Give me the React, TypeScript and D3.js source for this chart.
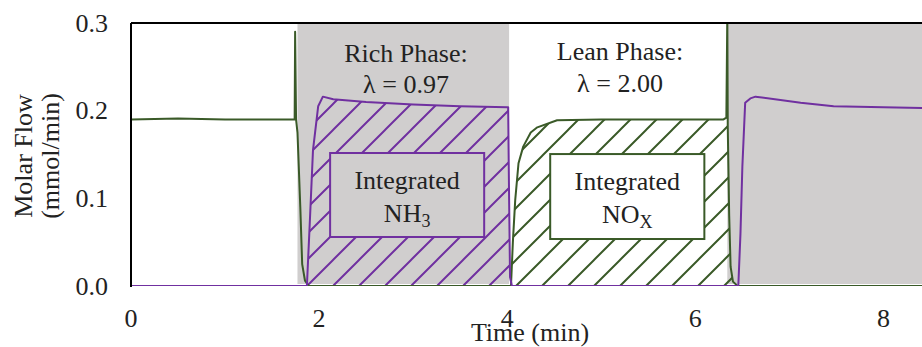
import React from 'react';
import * as d3 from 'd3';

// time (min) and molar flow (mmol/min)
const noxTime = [0, 0.5, 1.0, 1.5, 1.74, 1.745, 1.755, 1.77, 1.8, 1.82, 1.85, 1.89, 4.02, 4.04, 4.06, 4.085, 4.12, 4.17, 4.25, 4.32, 4.53, 5.0, 5.5, 6.0, 6.3, 6.33, 6.34, 6.345, 6.36, 6.375, 6.4, 6.45, 7.0, 8.41];
const noxFlow = [0.19, 0.191, 0.19, 0.19, 0.19, 0.29, 0.19, 0.175, 0.09, 0.025, 0.006, 0, 0, 0, 0.05, 0.098, 0.14, 0.159, 0.175, 0.181, 0.189, 0.19, 0.19, 0.19, 0.19, 0.192, 0.31, 0.18, 0.08, 0.022, 0.005, 0, 0, 0];

const nh3Time = [0, 1.0, 1.87, 1.9, 1.935, 1.99, 2.04, 2.15, 2.5, 3.0, 3.5, 4.0, 4.01, 4.02, 4.03, 4.05, 6.0, 6.457, 6.48, 6.5, 6.53, 6.585, 6.64, 7.12, 7.47, 8.0, 8.41];
const nh3Flow = [0, 0, 0, 0.07, 0.155, 0.205, 0.216, 0.213, 0.21, 0.207, 0.205, 0.204, 0.204, 0.1, 0.01, 0, 0, 0, 0.06, 0.136, 0.209, 0.214, 0.216, 0.209, 0.205, 0.204, 0.203];

const xTicks = [0, 2, 4, 6, 8];
const yTicks = [0, 0.1, 0.2, 0.3];

const richPhases = [[1.77, 4.02], [6.34, 8.41]];

const W = 922;
const H = 347;
const FONT = "'Liberation Serif', 'Times New Roman', Times, serif";
const GREEN = '#3a5a28';
const PURPLE = '#7030a0';
const GRAY = '#d0cece';

export default function App() {
  const x = d3.scaleLinear().domain([0, 8.41]).range([131, 922]);
  const y = d3.scaleLinear().domain([0, 0.3]).range([286, 23]);

  const nox = noxTime.map((t, i) => ({ t, v: noxFlow[i] }));
  const nh3 = nh3Time.map((t, i) => ({ t, v: nh3Flow[i] }));

  const line = d3.line<{ t: number; v: number }>()
    .x((d) => x(d.t))
    .y((d) => y(d.v));

  const area = d3.area<{ t: number; v: number }>()
    .x((d) => x(d.t))
    .y0(y(0))
    .y1((d) => y(Math.min(d.v, 0.19)));

  const areaNh3 = d3.area<{ t: number; v: number }>()
    .x((d) => x(d.t))
    .y0(y(0))
    .y1((d) => y(d.v));

  const noxHatch = nox.filter((d) => d.t >= 4.02 && d.t <= 6.45);
  const nh3Hatch = nh3.filter((d) => d.t >= 1.87 && d.t <= 4.05);

  // annotation boxes (data units)
  const nh3Box = { t0: 2.117, t1: 3.755, v0: 0.0559, v1: 0.1517 };
  const noxBox = { t0: 4.457, t1: 6.096, v0: 0.0536, v1: 0.1505 };

  const hatchPath = 'M0,26 L26,0 M-6.5,6.5 L6.5,-6.5 M19.5,32.5 L32.5,19.5';

  return (
    <svg width={W} height={H} style={{ position: 'absolute', left: 0, top: 0, fontFamily: FONT }}>
      <defs>
        <pattern id="hatchP" patternUnits="userSpaceOnUse" x={21} y={0} width={26} height={26}>
          <path d={hatchPath} stroke={PURPLE} strokeWidth={2} />
        </pattern>
        <pattern id="hatchG" patternUnits="userSpaceOnUse" x={22} y={0} width={26} height={26}>
          <path d={hatchPath} stroke={GREEN} strokeWidth={2} />
        </pattern>
        <clipPath id="plot">
          <rect x={131} y={23} width={W - 131} height={286 - 23} />
        </clipPath>
      </defs>

      <rect width={W} height={H} fill="#fff" />

      {/* rich phase shading */}
      {richPhases.map(([a, b], i) => (
        <rect key={i} x={x(a)} y={y(0.3)} width={x(b) - x(a)} height={y(0) - y(0.3) - 2} fill={GRAY} />
      ))}

      {/* integrated areas */}
      <path d={areaNh3(nh3Hatch) || ''} fill="url(#hatchP)" />
      <path d={area(noxHatch) || ''} fill="url(#hatchG)" />

      <g clipPath="url(#plot)">
        <path d={line(nox) || ''} fill="none" stroke={GREEN} strokeWidth={2} strokeLinejoin="round" />
        <path d={line(nh3) || ''} fill="none" stroke={PURPLE} strokeWidth={2} strokeLinejoin="round" />
      </g>

      {/* boxes */}
      <rect x={x(nh3Box.t0)} y={y(nh3Box.v1)} width={x(nh3Box.t1) - x(nh3Box.t0)} height={y(nh3Box.v0) - y(nh3Box.v1)}
        fill={GRAY} stroke={PURPLE} strokeWidth={2} />
      <rect x={x(noxBox.t0)} y={y(noxBox.v1)} width={x(noxBox.t1) - x(noxBox.t0)} height={y(noxBox.v0) - y(noxBox.v1)}
        fill="#fff" stroke={GREEN} strokeWidth={2} />

      <g fontSize={26} fill="#222" textAnchor="middle" style={{ fontFamily: FONT }}>
        <text x={(x(nh3Box.t0) + x(nh3Box.t1)) / 2} y={189}>Integrated</text>
        <text x={(x(nh3Box.t0) + x(nh3Box.t1)) / 2} y={222}>
          NH<tspan fontSize={18} dy={5}>3</tspan>
        </text>
        <text x={(x(noxBox.t0) + x(noxBox.t1)) / 2} y={190}>Integrated</text>
        <text x={(x(noxBox.t0) + x(noxBox.t1)) / 2} y={223}>
          NO<tspan fontSize={18} dy={5}>X</tspan>
        </text>

        <text x={406} y={62}>Rich Phase:</text>
        <text x={406} y={93}>λ = 0.97</text>
        <text x={620} y={60}>Lean Phase:</text>
        <text x={620} y={92}>λ = 2.00</text>
      </g>

      {/* axes */}
      <line x1={131} x2={W} y1={23} y2={23} stroke="#000" strokeWidth={2} />
      <line x1={131} x2={131} y1={23} y2={287} stroke="#000" strokeWidth={2} />

      <g fontSize={26} fill="#222" style={{ fontFamily: FONT }}>
        {yTicks.map((v) => (
          <text key={v} x={108} y={y(v)} dy="0.33em" textAnchor="end">{v.toFixed(1)}</text>
        ))}
        {xTicks.map((t) => (
          <text key={t} x={x(t)} y={327} textAnchor="middle">{t}</text>
        ))}
        <text x={530} y={341} textAnchor="middle">Time (min)</text>
        <text transform="translate(32,156) rotate(-90)" textAnchor="middle">Molar Flow</text>
        <text transform="translate(59,156) rotate(-90)" textAnchor="middle">(mmol/min)</text>
      </g>
    </svg>
  );
}
